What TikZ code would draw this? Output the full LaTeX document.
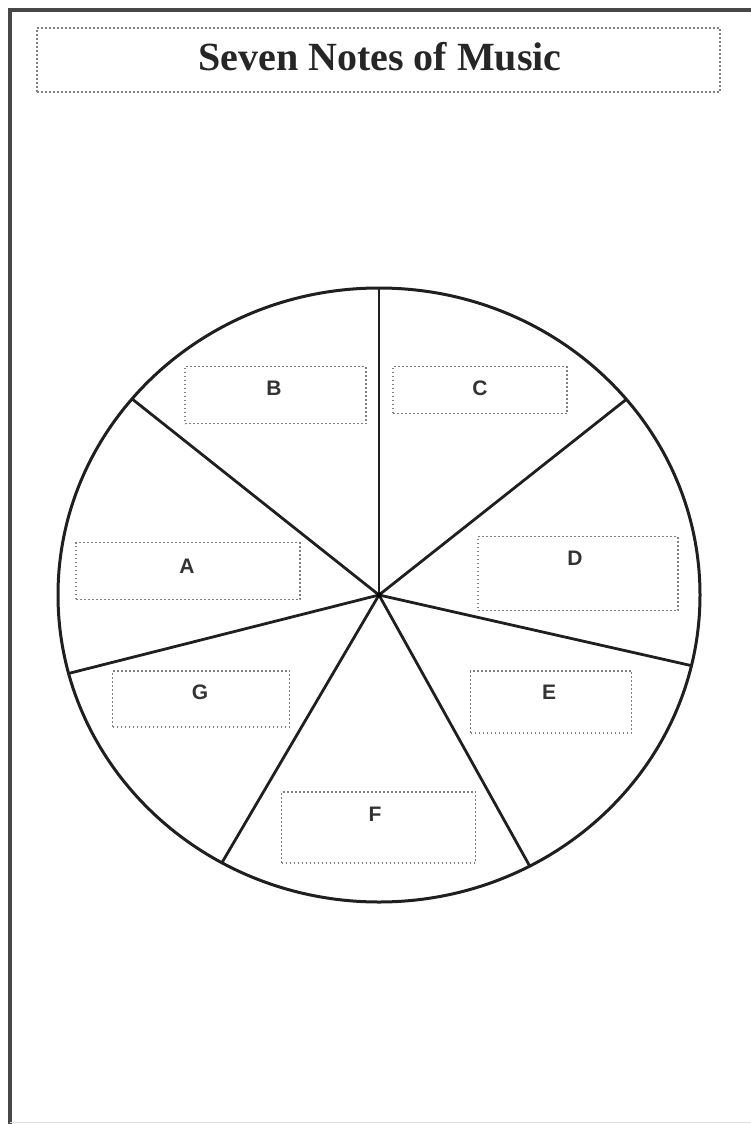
\documentclass[tikz,border=0pt]{standalone}
\usepackage{fontspec}
\setmainfont{Liberation Serif}
\newfontfamily\lettersans{Liberation Sans}
\begin{document}
\begin{tikzpicture}[x=1pt,y=-1pt,
  frameline/.style={line width=4pt, black!72},
  dotbox/.style={draw=black!50, line width=1.5pt, dash pattern=on 1.6pt off 2.4pt, rectangle, inner sep=0pt},
  titletext/.style={font=\fontsize{40}{48}\selectfont\bfseries, text=black!85, inner sep=0pt},
  lettertext/.style={font=\lettersans\fontsize{21}{25}\selectfont\bfseries, text=black!80, inner sep=0pt},
  rim/.style={line width=3pt, black!88},
  spoke/.style={line width=2.8pt, black!88}]
\useasboundingbox (0,0) rectangle (751,1124);
% page frame
\draw[frameline] (9.5,1124) -- (9.5,10.5) -- (751,10.5);
\draw[black!12, line width=1pt] (9.5,1122.5) -- (751,1122.5);
% title
\node[dotbox, minimum width=683pt, minimum height=64pt] (titlebox) at (378.5,60) {};
\node[titletext] (title) at (380,57) {Seven Notes of Music};
% circle
\coordinate (O) at (379,595);
\draw[rim] (O) ellipse [x radius=321, y radius=307];
\foreach \a/\n in {90/p1, 39.6/p2, -13.3/p3, -62/p4, -119.3/p5, 194.8/p6, 140.3/p7}{
  \coordinate (\n) at ({379+321*cos(\a)},{595-307*sin(\a)});
  \draw[spoke] (O) -- (\n);
}
\fill[black] (O) circle (2.5pt);
% note boxes
\node[dotbox, minimum width=181pt, minimum height=57pt] (boxB) at (275.5,395) {};
\node[lettertext] (B) at (274,388) {B};
\node[dotbox, minimum width=174pt, minimum height=47pt] (boxC) at (480,390) {};
\node[lettertext] (C) at (480,388) {C};
\node[dotbox, minimum width=200pt, minimum height=74pt] (boxD) at (578,573.5) {};
\node[lettertext] (D) at (575,558) {D};
\node[dotbox, minimum width=224pt, minimum height=57pt] (boxA) at (188,571) {};
\node[lettertext] (A) at (187,566) {A};
\node[dotbox, minimum width=177pt, minimum height=56pt] (boxG) at (201,699) {};
\node[lettertext] (G) at (200,692) {G};
\node[dotbox, minimum width=161pt, minimum height=62pt] (boxE) at (551,702) {};
\node[lettertext] (E) at (549,692) {E};
\node[dotbox, minimum width=194pt, minimum height=71pt] (boxF) at (378.5,827.5) {};
\node[lettertext] (F) at (375,814) {F};
\end{tikzpicture}
\end{document}
